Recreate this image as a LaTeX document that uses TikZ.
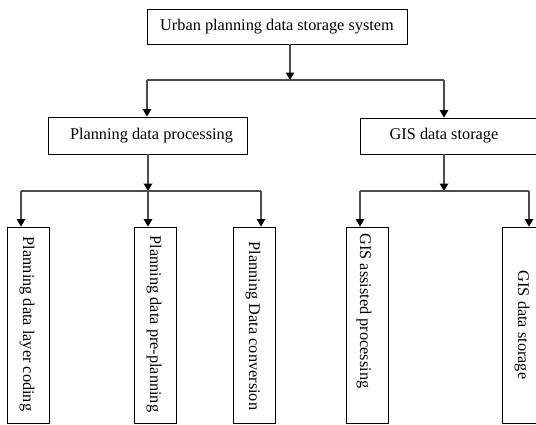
\documentclass[tikz,border=0pt]{standalone}
\usepackage{fontspec}
\setmainfont{Liberation Serif}
\usetikzlibrary{arrows.meta}
\begin{document}
\begin{tikzpicture}[x=1pt,y=-1pt,
  box/.style={draw=black,line width=0.8pt,inner sep=0pt,font=\fontsize{16.3}{18}\selectfont},
  leaf/.style={box,minimum width=42pt,minimum height=196pt},
  conn/.style={draw=black!70,line width=1.1pt},
  arr/.style={conn,-{Triangle[width=8.5pt,length=7.5pt,color=black]}},
  rot/.style={rotate=-90,inner sep=0pt,font=\fontsize{16.3}{18}\selectfont}]
\useasboundingbox (0,0) rectangle (536,424);
% boxes
\node[box,minimum width=260pt,minimum height=35pt] (top) at (277,26.5) {Urban planning data storage system};
\node[box,minimum width=199pt,minimum height=37pt] (pdp) at (147.5,135.5) {\hspace*{8pt}Planning data processing};
\node[box,minimum width=180pt,minimum height=36pt] (gis) at (450,136) {\hspace*{-12pt}GIS data storage};
\node[leaf] (l1) at (28,325) {};
\node[leaf] (l2) at (155,325) {};
\node[leaf] (l3) at (254,325) {};
\node[leaf] (l4) at (367,325) {};
\node[leaf] (l5) at (523,325) {};
\node[rot] (t1) at (27,324) {Planning data layer coding};
\node[rot] (t2) at (154,324) {Planning data pre-planning};
\node[rot] (t3) at (253,326) {Planning Data conversion};
\node[rot] (t4) at (364,311) {GIS assisted processing};
\node[rot] (t5) at (522,325) {GIS data storage};
% junctions
\coordinate (j0) at (290,80);
\coordinate (j0l) at (147,80);
\coordinate (j0r) at (444,80);
\coordinate (j1) at (148,191);
\coordinate (j1l) at (21,191);
\coordinate (j1r) at (261,191);
\coordinate (j2) at (444,191);
\coordinate (j2l) at (360,191);
\coordinate (j2r) at (529,191);
% connectors
\draw[arr] (top.south -| j0) -- (j0);
\draw[conn] (j0l) -- (j0r);
\draw[arr] (j0l) -- (pdp.north -| j0l);
\draw[arr] (j0r) -- (gis.north -| j0r);
\draw[arr] (pdp.south -| j1) -- (j1);
\draw[conn] (j1l) -- (j1r);
\draw[arr] (j1l) -- (l1.north -| j1l);
\draw[arr] (j1) -- (l2.north -| j1);
\draw[arr] (j1r) -- (l3.north -| j1r);
\draw[arr] (gis.south -| j2) -- (j2);
\draw[conn] (j2l) -- (j2r);
\draw[arr] (j2l) -- (l4.north -| j2l);
\draw[arr] (j2r) -- (l5.north -| j2r);
\end{tikzpicture}
\end{document}
